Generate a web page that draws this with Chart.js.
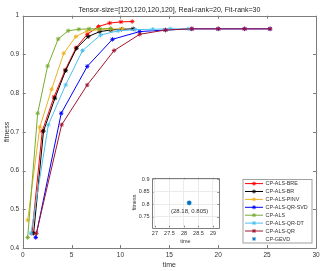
<!DOCTYPE html>
<html>
<head>
<meta charset="utf-8">
<script src="https://cdn.jsdelivr.net/npm/chart.js@4/dist/chart.umd.min.js"></script>
<style>
html,body{margin:0;padding:0;background:#fff;}
#wrap{position:relative;width:330px;height:271px;}
#main{position:absolute;left:0;top:0;}
#inset{position:absolute;left:128px;top:172px;}
</style>
</head>
<body>
<div id="wrap">
<canvas id="main" width="330" height="271"></canvas>
<canvas id="inset" width="96" height="74"></canvas>
</div>
<script>
// ---- data ----
const seriesLabels = ['CP-ALS-BRE','CP-ALS-BR','CP-ALS-PINV','CP-ALS-QR-SVD','CP-ALS','CP-ALS-QR-DT','CP-ALS-QR','CP-GEVD'];

const timeBRE = [0.95, 2.0, 3.2, 4.35, 5.45, 6.6, 7.75, 8.9, 10.05, 11.2];
const fitBRE  = [0.438, 0.702, 0.79, 0.86, 0.917, 0.952, 0.972, 0.981, 0.984, 0.985];

const timeBR = [1.12, 2.13, 3.3, 4.39, 5.51, 6.7, 7.89, 9.01, 10.1, 11.3];
const fitBR  = [0.438, 0.702, 0.787, 0.858, 0.916, 0.946, 0.959, 0.963, 0.965, 0.966];

const timePINV = [0.51, 1.75, 2.96, 4.2, 5.44, 6.6, 7.8, 9.0, 10.2];
const fitPINV  = [0.472, 0.712, 0.81, 0.903, 0.946, 0.961, 0.964, 0.966, 0.966];

const timeQRSVD = [1.33, 3.94, 6.6, 9.18, 11.97, 14.6, 17.3, 20.0, 22.7, 25.3];
const fitQRSVD  = [0.427, 0.748, 0.869, 0.939, 0.959, 0.963, 0.966, 0.966, 0.966, 0.966];

const timeALS = [0.51, 1.53, 2.55, 3.63, 4.65, 5.74, 6.8, 7.89, 9.0];
const fitALS  = [0.427, 0.748, 0.87, 0.94, 0.961, 0.965, 0.966, 0.966, 0.967];

const timeQRDT = [0.85, 2.62, 4.39, 6.12, 7.96, 9.76, 11.5, 13.3, 15.1, 17.0];
const fitQRDT  = [0.438, 0.718, 0.821, 0.91, 0.95, 0.961, 0.964, 0.965, 0.966, 0.966];

const timeQR = [1.4, 3.98, 6.6, 9.35, 11.97, 14.6, 17.3, 20.0, 22.7, 25.3];
const fitQR  = [0.438, 0.718, 0.821, 0.91, 0.952, 0.963, 0.966, 0.966, 0.966, 0.966];

const timeGEVD = [28.18];
const fitGEVD  = [0.805];

const mainXTicks = [0, 5, 10, 15, 20, 25, 30];
const mainYTicks = [0.4, 0.5, 0.6, 0.7, 0.8, 0.9, 1];
const insetXTicks = [27, 27.5, 28, 28.5, 29];
const insetYTicks = [0.75, 0.8, 0.85, 0.9];

// ---- build ----
const seriesColors = ['#FF0000','#000000','#EDB120','#0000FF','#77AC30','#4DBEEE','#A2142F','#0072BD'];
const seriesTimes = [timeBRE, timeBR, timePINV, timeQRSVD, timeALS, timeQRDT, timeQR];
const seriesFits  = [fitBRE, fitBR, fitPINV, fitQRSVD, fitALS, fitQRDT, fitQR];

const FONT = "'Liberation Sans', Arial, sans-serif";
const TXT = '#333333';
const AX = '#7d7d7d';

function pts(xs, ys){ return xs.map((x,i)=>({x:x, y:ys[i]})); }

const mainDatasets = seriesTimes.map((xs,i)=>({
  label: seriesLabels[i],
  data: pts(xs, seriesFits[i]),
  showLine: true,
  borderColor: seriesColors[i],
  backgroundColor: seriesColors[i],
  borderWidth: 1,
  pointStyle: 'star',
  pointRadius: 2.2,
  pointBorderWidth: 0.9,
  order: 20 - i
}));

function fmt(v){ return String(Number(v.toFixed(2))); }

const axisBox = {
  id: 'axisBox',
  afterDatasetsDraw(chart, args, opts){
    const {ctx, chartArea:a, scales} = chart;
    const tl = opts.tick || 3;
    ctx.save();
    ctx.strokeStyle = AX;
    ctx.lineWidth = 1;
    ctx.beginPath();
    ctx.rect(Math.round(a.left)+0.5, Math.round(a.top)+0.5, Math.round(a.right-a.left), Math.round(a.bottom-a.top));
    ctx.stroke();
    ctx.beginPath();
    scales.x.ticks.forEach(t=>{
      const px = Math.round(scales.x.getPixelForValue(t.value))+0.5;
      ctx.moveTo(px, a.bottom); ctx.lineTo(px, a.bottom - tl);
      ctx.moveTo(px, a.top); ctx.lineTo(px, a.top + tl);
    });
    scales.y.ticks.forEach(t=>{
      const py = Math.round(scales.y.getPixelForValue(t.value))+0.5;
      ctx.moveTo(a.left, py); ctx.lineTo(a.left + tl, py);
      ctx.moveTo(a.right, py); ctx.lineTo(a.right - tl, py);
    });
    ctx.stroke();
    ctx.restore();
  }
};

const boxLegend = {
  id: 'boxLegend',
  afterDraw(chart){
    const ctx = chart.ctx;
    const L = 242.5, T = 179, W = 69, H = 63.5;
    ctx.save();
    ctx.fillStyle = '#fff';
    ctx.fillRect(L, T, W, H);
    ctx.strokeStyle = '#a0a0a0';
    ctx.lineWidth = 1;
    ctx.strokeRect(L+0.5, T+0.5, W, H);
    ctx.font = '5.4px ' + FONT;
    ctx.textBaseline = 'middle';
    ctx.textAlign = 'left';
    seriesLabels.forEach((lab,i)=>{
      const y = 183.6 + i*7.9;
      const col = seriesColors[i];
      ctx.strokeStyle = col; ctx.fillStyle = col;
      if (i < 7) {
        ctx.lineWidth = 1;
        ctx.beginPath(); ctx.moveTo(245, y); ctx.lineTo(263, y); ctx.stroke();
      }
      ctx.lineWidth = 0.9;
      Chart.helpers.drawPoint(ctx, {pointStyle:'star', radius:2, borderWidth:0.9}, 254, y);
      ctx.fillStyle = TXT;
      ctx.fillText(lab, 265.5, y+0.3);
    });
    ctx.restore();
  }
};

new Chart(document.getElementById('main'), {
  type: 'scatter',
  data: { datasets: mainDatasets },
  options: {
    responsive: false,
    devicePixelRatio: 1,
    animation: false,
    layout: { padding: { left: 0, right: 14, top: 0, bottom: 0 } },
    plugins: {
      legend: { display: false },
      tooltip: { enabled: false },
      title: {
        display: true,
        fullSize: false,
        text: 'Tensor-size=[120,120,120,120], Real-rank=20, Fit-rank=30',
        color: '#262626',
        font: { family: FONT, size: 7, weight: 'normal' },
        padding: { top: 6, bottom: 1.3 }
      },
      axisBox: { tick: 3 }
    },
    scales: {
      x: {
        type: 'linear', min: 0, max: 30,
        afterBuildTicks: s => { s.ticks = mainXTicks.map(v=>({value:v})); },
        afterFit: s => { s.height = 23; },
        grid: { display: false, drawTicks: false },
        border: { display: false },
        ticks: { color: TXT, font: { family: FONT, size: 6.5 }, padding: 3, maxRotation: 0, callback: v => fmt(v) },
        title: { display: true, text: 'time', color: TXT, font: { family: FONT, size: 7 }, padding: { top: 0, bottom: 1.5 } }
      },
      y: {
        type: 'linear', min: 0.4, max: 1,
        afterBuildTicks: s => { s.ticks = mainYTicks.map(v=>({value:v})); },
        afterFit: s => { s.width = 22.7; },
        grid: { display: false, drawTicks: false },
        border: { display: false },
        ticks: { color: TXT, font: { family: FONT, size: 6.5 }, padding: 3.5, callback: v => fmt(v) },
        title: { display: true, text: 'fitness', color: TXT, font: { family: FONT, size: 7 }, padding: { top: 2.5, bottom: 0 } }
      }
    }
  },
  plugins: [axisBox, boxLegend]
});

const insetLabel = {
  id: 'insetLabel',
  afterDatasetsDraw(chart){
    const {ctx, scales} = chart;
    const px = scales.x.getPixelForValue(timeGEVD[0]);
    const py = scales.y.getPixelForValue(fitGEVD[0]);
    ctx.save();
    ctx.font = '6px ' + FONT;
    ctx.fillStyle = TXT;
    ctx.textAlign = 'center';
    ctx.textBaseline = 'middle';
    ctx.fillText('(' + timeGEVD[0] + ', ' + fitGEVD[0] + ')', px + 0.5, py + 8);
    ctx.restore();
  }
};

new Chart(document.getElementById('inset'), {
  type: 'scatter',
  data: { datasets: [{
    label: seriesLabels[7],
    data: pts(timeGEVD, fitGEVD),
    borderColor: seriesColors[7],
    backgroundColor: seriesColors[7],
    pointStyle: 'star',
    pointRadius: 2.4,
    pointBorderWidth: 1.2
  }]},
  options: {
    responsive: false,
    devicePixelRatio: 1,
    animation: false,
    layout: { padding: { left: 0, right: 4, top: 5.3, bottom: 0 } },
    plugins: { legend: { display: false }, tooltip: { enabled: false }, axisBox: { tick: 1.5 } },
    scales: {
      x: {
        type: 'linear', min: 26.9, max: 29.2,
        afterBuildTicks: s => { s.ticks = insetXTicks.map(v=>({value:v})); },
        afterFit: s => { s.height = 18.7; },
        grid: { display: true, drawTicks: false, color: '#ebebeb', lineWidth: 1 },
        border: { display: false },
        ticks: { color: TXT, font: { family: FONT, size: 5.5 }, padding: 2.5, maxRotation: 0, autoSkip: false, callback: v => fmt(v) },
        title: { display: true, text: 'time', color: TXT, font: { family: FONT, size: 5.5 }, padding: { top: 0, bottom: 1.5 } }
      },
      y: {
        type: 'linear', min: 0.708, max: 0.905,
        afterBuildTicks: s => { s.ticks = insetYTicks.map(v=>({value:v})); },
        afterFit: s => { s.width = 24; },
        grid: { display: true, drawTicks: false, color: '#ebebeb', lineWidth: 1 },
        border: { display: false },
        ticks: { color: TXT, font: { family: FONT, size: 5.5 }, padding: 2.5, autoSkip: false, callback: v => fmt(v) },
        title: { display: true, text: 'fitness', color: TXT, font: { family: FONT, size: 5.5 }, padding: { top: 3.5, bottom: 0 } }
      }
    }
  },
  plugins: [axisBox, insetLabel]
});
</script>
</body>
</html>
